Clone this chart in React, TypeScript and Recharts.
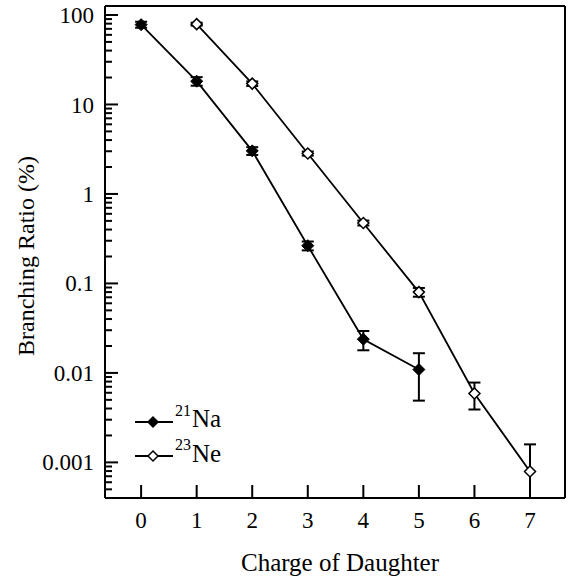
import React from 'react';
import { LineChart, Line, XAxis, YAxis, ErrorBar, ReferenceLine, Legend, Label } from 'recharts';

// ---- data ----
const naCharges = [0, 1, 2, 3, 4, 5];
const naValues = [78, 18.2, 3.03, 0.264, 0.0238, 0.0109];
const naErrors = [[6, 6], [2, 2], [0.3, 0.3], [0.03, 0.03], [0.0059, 0.0056], [0.006, 0.0057]];

const neCharges = [1, 2, 3, 4, 5, 6, 7];
const neValues = [79, 17.1, 2.83, 0.474, 0.08, 0.0059, 0.00079];
const neErrors = [[3, 3], [1, 1], [0.15, 0.15], [0.03, 0.03], [0.009, 0.009], [0.002, 0.0019], [0.00039, 0.0008]];

const xTicks = [0, 1, 2, 3, 4, 5, 6, 7];
const yMajorTicks = [0.001, 0.01, 0.1, 1, 10, 100];
const yMajorLabels = ['0.001', '0.01', '0.1', '1', '10', '100'];
const legendMass = ['21', '23'];
const legendElement = ['Na', 'Ne'];
const xTitle = 'Charge of Daughter';
const yTitle = 'Branching Ratio (%)';

const X_DOMAIN: [number, number] = [-0.65, 7.63];
const Y_DOMAIN: [number, number] = [0.0004, 126];

// ---- layout ----
const W = 574;
const H = 580;
const PL = 105; // plot left
const PT = 6; // plot top
const PR = 565; // plot right
const PB = 498; // plot bottom
const FONT = "'Liberation Serif', 'DejaVu Serif', serif";
const FS = 23;
const TS: React.CSSProperties = { fontFamily: FONT };

const naData = naCharges.map((c, i) => ({ x: c, y: naValues[i], err: naErrors[i] }));
const neData = neCharges.map((c, i) => ({ x: c, y: neValues[i], err: neErrors[i] }));

const yMinorTicks: number[] = [];
[0.0001, ...yMajorTicks].forEach((d) => {
  for (let k = 2; k <= 9; k++) {
    const v = d * k;
    if (v >= Y_DOMAIN[0] && v <= Y_DOMAIN[1]) yMinorTicks.push(v);
  }
});
const yAllTicks = [...yMajorTicks, ...yMinorTicks].sort((a, b) => a - b);

const YTick = (props: any) => {
  const { y, payload } = props;
  const v = payload.value;
  const idx = yMajorTicks.findIndex((m) => Math.abs(m - v) / m < 1e-6);
  const major = idx >= 0;
  return (
    <g>
      <line x1={PL} x2={PL + (major ? 13 : 7)} y1={y} y2={y} stroke="#000" strokeWidth={2} />
      {major && (
        <text x={94} y={y} dy="0.35em" textAnchor="end" style={TS} fontSize={FS} fill="#000">
          {yMajorLabels[idx]}
        </text>
      )}
    </g>
  );
};

const XTick = (props: any) => {
  const { x, payload } = props;
  return (
    <g>
      <line x1={x} x2={x} y1={PB} y2={PB - 13} stroke="#000" strokeWidth={2} />
      <text x={x} y={PB + 22} dy="0.35em" textAnchor="middle" style={TS} fontSize={FS} fill="#000">
        {payload.value}
      </text>
    </g>
  );
};

const FilledDiamond = (props: any) => {
  const { cx, cy } = props;
  if (cx == null || cy == null) return null;
  const w = 6, h = 6;
  return (
    <polygon
      key={`na-${cx}`}
      points={`${cx},${cy - h} ${cx + w},${cy} ${cx},${cy + h} ${cx - w},${cy}`}
      fill="#000"
      stroke="#000"
      strokeWidth={1}
    />
  );
};

const OpenDiamond = (props: any) => {
  const { cx, cy } = props;
  if (cx == null || cy == null) return null;
  const w = 5.5, h = 5.5;
  return (
    <polygon
      key={`ne-${cx}`}
      points={`${cx},${cy - h} ${cx + w},${cy} ${cx},${cy + h} ${cx - w},${cy}`}
      fill="#fff"
      stroke="#000"
      strokeWidth={1.5}
    />
  );
};

const LegendContent = () => {
  const rows = [
    { ly: 22, sy: 16, ty: 27, filled: true },
    { ly: 56, sy: 50, ty: 62, filled: false },
  ];
  return (
    <svg width={140} height={75} style={{ overflow: 'visible' }}>
      {rows.map((r, i) => (
        <g key={i}>
          <line x1={5} x2={43} y1={r.ly} y2={r.ly} stroke="#000" strokeWidth={2} />
          {r.filled ? (
            <polygon points={`23,${r.ly - 6} 29,${r.ly} 23,${r.ly + 6} 17,${r.ly}`} fill="#000" />
          ) : (
            <polygon
              points={`23,${r.ly - 5} 28,${r.ly} 23,${r.ly + 5} 18,${r.ly}`}
              fill="#fff"
              stroke="#000"
              strokeWidth={1.5}
            />
          )}
          <text x={45} y={r.sy} style={TS} fontSize={16} fill="#000">
            {legendMass[i]}
          </text>
          <text x={62} y={r.ty} style={TS} fontSize={25} fill="#000">
            {legendElement[i]}
          </text>
        </g>
      ))}
    </svg>
  );
};

export default function App() {
  return (
    <div style={{ position: 'absolute', left: 0, top: 0, width: W, height: H, background: '#fff', fontFamily: FONT }}>
      <LineChart width={W} height={H} margin={{ top: PT, right: W - PR, bottom: 0, left: 0 }} style={TS}>
        <XAxis
          type="number"
          dataKey="x"
          domain={X_DOMAIN}
          allowDataOverflow
          ticks={xTicks}
          interval={0}
          height={H - PB}
          axisLine={{ stroke: '#000', strokeWidth: 2 }}
          tickLine={false}
          tick={<XTick />}
        >
          <Label
            content={(p: any) => {
              const vb = p.viewBox || {};
              return (
                <text
                  x={(vb.x ?? PL) + (vb.width ?? PR - PL) / 2 + 5}
                  y={571}
                  textAnchor="middle"
                  style={TS}
                  fontSize={25}
                  fill="#000"
                >
                  {xTitle}
                </text>
              );
            }}
          />
        </XAxis>
        <YAxis
          type="number"
          scale="log"
          domain={Y_DOMAIN}
          allowDataOverflow
          ticks={yAllTicks}
          interval={0}
          width={PL}
          axisLine={{ stroke: '#000', strokeWidth: 2 }}
          tickLine={false}
          tick={<YTick />}
        >
          <Label
            content={() => (
              <text
                x={34}
                y={256}
                transform={`rotate(-90 34 256)`}
                textAnchor="middle"
                style={TS}
                fontSize={24}
                fill="#000"
              >
                {yTitle}
              </text>
            )}
          />
        </YAxis>
        <ReferenceLine y={Y_DOMAIN[1]} stroke="#000" strokeWidth={2} ifOverflow="visible" />
        <ReferenceLine x={X_DOMAIN[1]} stroke="#000" strokeWidth={2} ifOverflow="visible" />
        <Line
          data={naData}
          dataKey="y"
          stroke="#000"
          strokeWidth={1.8}
          dot={<FilledDiamond />}
          activeDot={false}
          isAnimationActive={false}
        >
          <ErrorBar dataKey="err" width={6} stroke="#000" strokeWidth={2} direction="y" />
        </Line>
        <Line
          data={neData}
          dataKey="y"
          stroke="#000"
          strokeWidth={1.8}
          dot={<OpenDiamond />}
          activeDot={false}
          isAnimationActive={false}
        >
          <ErrorBar dataKey="err" width={6} stroke="#000" strokeWidth={2} direction="y" />
        </Line>
        <Legend
          layout="horizontal"
          verticalAlign="middle"
          align="center"
          wrapperStyle={{ left: 130, top: 400, width: 140, height: 75 }}
          content={() => <LegendContent />}
        />
      </LineChart>
    </div>
  );
}
